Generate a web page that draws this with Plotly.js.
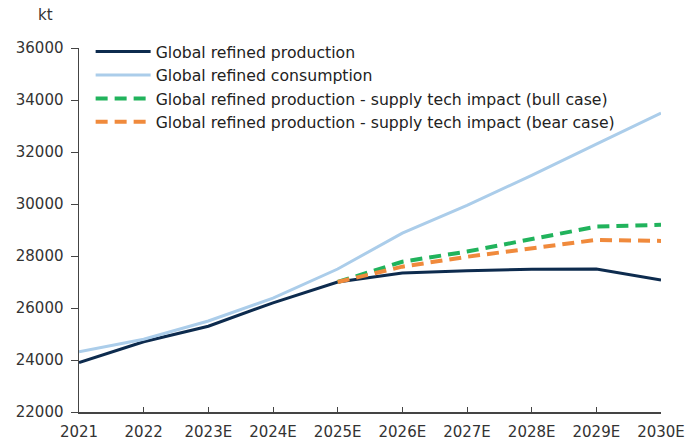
<!DOCTYPE html>
<html>
<head>
<meta charset="utf-8">
<script src="https://cdn.plot.ly/plotly-3.0.1.min.js"></script>
<style>html,body{margin:0;padding:0;background:#fff;}#chart{width:690px;height:446px;}</style>
</head>
<body>
<div id="chart"></div>
<script>
const years = ["2021","2022","2023E","2024E","2025E","2026E","2027E","2028E","2029E","2030E"];
const production = [23900, 24700, 25300, 26200, 27000, 27350, 27430, 27490, 27500, 27080];
const consumption = [24320, 24800, 25500, 26380, 27500, 28880, 29950, 31100, 32300, 33500];
const scenarioYears = ["2025E","2026E","2027E","2028E","2029E","2030E"];
const bullCase = [27000, 27780, 28170, 28650, 29130, 29200];
const bearCase = [27000, 27590, 27970, 28300, 28620, 28580];
const yTicks = [22000, 24000, 26000, 28000, 30000, 32000, 34000, 36000];

const fam = "DejaVu Sans, Liberation Sans, Arial, sans-serif";

const traces = [
  {x: years, y: production, name: "Global refined production", mode: "lines",
   line: {color: "#0d2b4e", width: 3}},
  {x: years, y: consumption, name: "Global refined consumption", mode: "lines",
   line: {color: "#abcdea", width: 3}},
  {x: scenarioYears, y: bullCase, name: "Global refined production - supply tech impact (bull case)", mode: "lines",
   line: {color: "#21b35c", width: 4, dash: "12px,7px"}},
  {x: scenarioYears, y: bearCase, name: "Global refined production - supply tech impact (bear case)", mode: "lines",
   line: {color: "#f08a3c", width: 4, dash: "12px,7px"}}
];

const layout = {
  width: 690, height: 446,
  margin: {l: 79, r: 29, t: 48, b: 34},
  paper_bgcolor: "#fff", plot_bgcolor: "#fff",
  font: {family: fam, size: 15, color: "#333"},
  showlegend: true,
  legend: {x: 0.02, y: 1.036, xanchor: "left", yanchor: "top", bgcolor: "rgba(0,0,0,0)",
           font: {family: fam, size: 15.7, color: "#222"}, tracegroupgap: 0, itemwidth: 55},
  xaxis: {type: "category", categoryarray: years, range: [0, 9], showgrid: false, zeroline: false,
          showline: true, linecolor: "#444", linewidth: 1.5, ticks: "inside", ticklen: 5, tickcolor: "#444",
          ticklabelstandoff: 5,
          tickfont: {family: fam, size: 15, color: "#333"}, fixedrange: true},
  yaxis: {range: [22000, 36000], tickvals: yTicks, ticktext: yTicks.map(String), showgrid: false, zeroline: false,
          showline: true, linecolor: "#444", linewidth: 1.5, ticks: "outside", ticklen: 7, tickcolor: "#444",
          ticklabelstandoff: 4,
          tickfont: {family: fam, size: 15, color: "#333"}, fixedrange: true},
  annotations: [{text: "kt", xref: "paper", yref: "paper", x: -0.058, y: 1.09, xanchor: "center", yanchor: "middle",
                 showarrow: false, font: {family: fam, size: 15, color: "#333"}}]
};

Plotly.newPlot("chart", traces, layout, {displayModeBar: false, staticPlot: true});
</script>
</body>
</html>
